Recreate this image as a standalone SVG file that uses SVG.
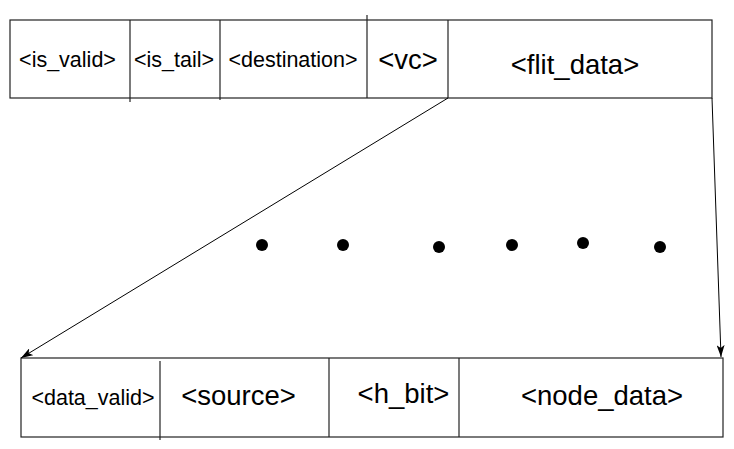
<svg xmlns="http://www.w3.org/2000/svg" width="734" height="449" viewBox="0 0 734 449">
<style>
.box{fill:#fff;stroke:#222;stroke-width:1.2}
.div{stroke:#222;stroke-width:1.2}
.s{font-family:"Liberation Sans",Arial,sans-serif;font-size:21.5px;fill:#000;text-anchor:middle}
.l{font-family:"Liberation Sans",Arial,sans-serif;font-size:27.5px;fill:#000;text-anchor:middle}
.c{stroke:#000;stroke-width:1;fill:none}
.dot{fill:#000}
</style>
<defs>
<marker id="ah" viewBox="0 0 12 8" refX="12" refY="4" markerWidth="12" markerHeight="8" markerUnits="userSpaceOnUse" orient="auto">
<path d="M0,0 L12,4 L0,8 L3,4 Z" fill="#000"/>
</marker>
</defs>
<g id="flit">
<rect class="box" x="10" y="20" width="702" height="78"/>
<line class="div" x1="130" y1="20" x2="130" y2="102"/>
<line class="div" x1="220" y1="20" x2="220" y2="100"/>
<line class="div" x1="367" y1="15" x2="367" y2="98"/>
<line class="div" x1="448" y1="20" x2="448" y2="98"/>
<text class="s" x="67.5" y="67">&lt;is_valid&gt;</text>
<text class="s" x="174" y="67">&lt;is_tail&gt;</text>
<text class="s" x="293" y="67">&lt;destination&gt;</text>
<text class="l" x="408" y="69">&lt;vc&gt;</text>
<text class="l" x="575" y="74">&lt;flit_data&gt;</text>
</g>
<g id="payload">
<rect class="box" x="21" y="358" width="702" height="79"/>
<line class="div" x1="160" y1="361" x2="160" y2="440"/>
<line class="div" x1="329" y1="358" x2="329" y2="437"/>
<line class="div" x1="459" y1="358" x2="459" y2="437"/>
<text class="s" x="93" y="405">&lt;data_valid&gt;</text>
<text class="l" x="238.5" y="405">&lt;source&gt;</text>
<text class="l" x="403.5" y="403">&lt;h_bit&gt;</text>
<text class="l" x="602" y="405">&lt;node_data&gt;</text>
</g>
<g id="ellipsis">
<circle class="dot" cx="262" cy="245" r="6"/>
<circle class="dot" cx="343" cy="245" r="6"/>
<circle class="dot" cx="439" cy="247" r="6"/>
<circle class="dot" cx="512" cy="245" r="6"/>
<circle class="dot" cx="583" cy="243" r="6"/>
<circle class="dot" cx="660" cy="247" r="6"/>
</g>
<g id="connectors">
<line class="c" x1="448" y1="98" x2="21" y2="358" marker-end="url(#ah)"/>
<line class="c" x1="712" y1="98" x2="721" y2="357" marker-end="url(#ah)"/>
</g>
</svg>
